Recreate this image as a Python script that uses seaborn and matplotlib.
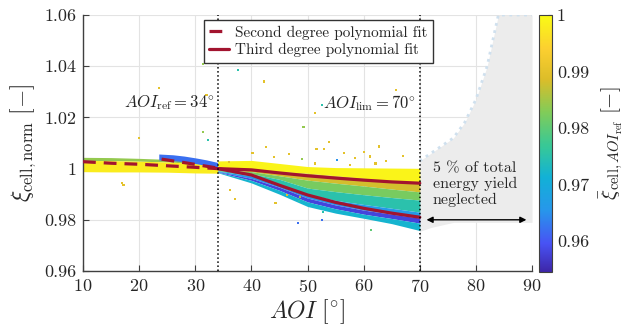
import matplotlib
matplotlib.use("Agg")
import matplotlib.pyplot as plt
import numpy as np
import pandas as pd
import seaborn as sns
from matplotlib.colors import LinearSegmentedColormap, Normalize
from matplotlib.cm import ScalarMappable
from matplotlib.ticker import FuncFormatter

# ---------------- values ----------------
# cloud below AOI_ref (upper group): band boundaries, top -> bottom
aoi_left = [10, 15, 20, 25, 30, 34]
left_top = [1.0044, 1.0043, 1.0040, 1.0036, 1.0030, 1.0022]
left_mid = [1.0032, 1.0031, 1.0029, 1.0026, 1.0020, 1.0012]
left_bot = [0.9988, 0.9987, 0.9987, 0.9986, 0.9983, 0.9982]
left_colors = [0.984, 0.998]

# blue strip (lower group) before AOI_ref
aoi_strip = [23.5, 26, 28, 30, 32, 34]
strip_top = [1.0057, 1.0054, 1.0049, 1.0042, 1.0034, 1.0024]
strip_bot = [1.0034, 1.0031, 1.0027, 1.0020, 1.0012, 1.0005]
strip_color = 0.962

# cloud between AOI_ref and AOI_lim: band boundaries, top -> bottom
aoi_right = [34, 40, 45, 50, 55, 60, 65, 70]
right_bounds = [
    [1.0030, 1.0032, 1.0020, 1.0008, 1.0004, 1.0003, 1.0002, 1.0001],
    [0.9998, 0.9995, 0.9988, 0.9982, 0.9972, 0.9962, 0.9952, 0.9943],
    [0.9995, 0.9988, 0.9972, 0.9955, 0.9943, 0.9932, 0.9920, 0.9909],
    [0.9992, 0.9980, 0.9958, 0.9924, 0.9910, 0.9898, 0.9887, 0.9877],
    [0.9990, 0.9972, 0.9940, 0.9900, 0.9876, 0.9860, 0.9845, 0.9830],
    [0.9988, 0.9962, 0.9927, 0.9885, 0.9858, 0.9838, 0.9822, 0.9807],
    [0.9986, 0.9954, 0.9915, 0.9870, 0.9843, 0.9822, 0.9805, 0.9787],
    [0.9984, 0.9944, 0.9900, 0.9852, 0.9826, 0.9806, 0.9785, 0.9758],
]
right_colors = [0.999, 0.988, 0.982, 0.975, 0.966, 0.958, 0.972]

# neglected region beyond AOI_lim
aoi_gray = [70, 72, 74, 76, 78, 80, 82, 84, 86, 88, 90]
gray_top = [1.003, 1.006, 1.009, 1.012, 1.018, 1.027, 1.040, 1.060, 1.060, 1.060, 1.060]
gray_bot = [0.9755, 0.977, 0.978, 0.979, 0.979, 0.979, 0.979, 0.979, 0.979, 0.979, 0.979]

# fits
fit2_upper_x = [10, 15, 20, 25, 30, 34]
fit2_upper_y = [1.0027, 1.0021, 1.0017, 1.0011, 1.0005, 1.0000]
fit2_lower_x = [24, 29, 34]
fit2_lower_y = [1.0037, 1.0020, 1.0002]
fit3_x = [34, 40, 45, 50, 55, 60, 65, 70]
fit3_upper_y = [1.0000, 0.9995, 0.9983, 0.9972, 0.9963, 0.9955, 0.9948, 0.9943]
fit3_lower_y = [1.0000, 0.9975, 0.9935, 0.9897, 0.9868, 0.9845, 0.9826, 0.9810]

# scattered single points
out_aoi = [31.4, 23.5, 20.0, 32.0, 31.4, 32.2, 37.6, 42.3, 40.2, 42.6, 49.3, 51.4,
           52.6, 51.6, 52.9, 46.7, 49.0, 65.7, 56.5, 62.8, 61.2, 53.8, 51.4, 62.1,
           55.3, 17.0, 17.2, 36.2, 37.1, 44.3, 48.6, 48.3, 52.8, 52.6, 36.0, 61.25,
           47.0, 46.3, 48.5, 58.5, 60.0, 64.0, 67.0, 57.5, 44.0]
out_xi = [1.0408, 1.0315, 1.0121, 1.0287, 1.0144, 1.0112, 1.0384, 1.0340, 1.0061,
          1.0083, 1.0161, 1.0218, 1.0248, 1.0075, 1.0077, 1.0056, 1.0036, 1.0307,
          1.0060, 1.0086, 1.0047, 1.0105, 1.0020, 1.0020, 1.0034, 0.9943, 0.9937,
          0.9916, 0.9880, 0.9867, 0.9890, 0.9786, 0.9832, 0.9799, 1.0027, 0.9760,
          0.9916, 0.9897, 0.9875, 1.0040, 1.0065, 1.0030, 1.0050, 1.0015, 1.0045]
out_c = [0.984, 0.990, 0.990, 0.990, 0.984, 0.975, 0.975, 0.990, 0.990, 0.990,
         0.984, 0.990, 0.975, 0.990, 0.990, 0.990, 0.984, 0.990, 0.990, 0.990,
         0.990, 0.990, 0.990, 0.990, 0.965, 0.990, 0.990, 0.990, 0.990, 0.990,
         0.984, 0.962, 0.975, 0.962, 0.990, 0.980, 0.990, 0.990, 0.975, 0.990,
         0.990, 0.990, 0.990, 0.990, 0.990]

# ---------------- style ----------------
sns.set_style("whitegrid")
plt.rcParams["font.family"] = ["serif"]
plt.rcParams["font.serif"] = ["cmr10", "DejaVu Serif"]
plt.rcParams["mathtext.fontset"] = "cm"
plt.rcParams["axes.formatter.use_mathtext"] = True

parula = LinearSegmentedColormap.from_list("parula", [
    (0.00, (0.2422, 0.1504, 0.6603)),
    (0.11, (0.2810, 0.3228, 0.9579)),
    (0.24, (0.1540, 0.5902, 0.9218)),
    (0.37, (0.0689, 0.6948, 0.8394)),
    (0.49, (0.2161, 0.7843, 0.5923)),
    (0.62, (0.5044, 0.7993, 0.3480)),
    (0.75, (0.8634, 0.7406, 0.1596)),
    (0.87, (0.9892, 0.8136, 0.1885)),
    (1.00, (0.9769, 0.9839, 0.0805)),
])
norm = Normalize(vmin=0.9545, vmax=1.0)
red = "#A2142F"

fig = plt.figure(figsize=(6.42, 3.29), dpi=100)
ax = fig.add_axes([0.1293, 0.1763, 0.6994, 0.7781])
cax = fig.add_axes([0.8396, 0.1733, 0.0202, 0.7811])

# neglected region
ax.fill_between(aoi_gray, gray_bot, gray_top, color="#ececec", lw=0, zorder=1)
ax.plot(aoi_gray, gray_top, ls=":", lw=2, color="#cfe0ee", zorder=1)

# cloud bands
ax.fill_between(aoi_left, left_top, left_mid, color=parula(norm(left_colors[0])), lw=0, zorder=2)
ax.fill_between(aoi_left, left_mid, left_bot, color=parula(norm(left_colors[1])), lw=0, zorder=2)
ax.fill_between(aoi_strip, strip_top, strip_bot, color=parula(norm(strip_color)), lw=0, zorder=2)
for i, c in enumerate(right_colors):
    ax.fill_between(aoi_right, right_bounds[i], right_bounds[i + 1],
                    color=parula(norm(c)), lw=0, zorder=2)

outliers = pd.DataFrame({"aoi": out_aoi, "xi": out_xi, "c": out_c})
sns.scatterplot(data=outliers, x="aoi", y="xi", hue="c", palette=parula,
                hue_norm=norm, s=2.5, linewidth=0, marker="s", legend=False,
                ax=ax, zorder=3)

# fits
sns.lineplot(x=fit2_upper_x, y=fit2_upper_y, color=red, lw=2.3, ax=ax, zorder=4)
l2 = ax.lines[-1]
l2.set_dashes([4, 2.5])
sns.lineplot(x=fit2_lower_x, y=fit2_lower_y, color=red, lw=2.3, ax=ax, zorder=4)
ax.lines[-1].set_dashes([4, 2.5])
sns.lineplot(x=fit3_x, y=fit3_upper_y, color=red, lw=2.3, ax=ax, zorder=4)
l3 = ax.lines[-1]
sns.lineplot(x=fit3_x, y=fit3_lower_y, color=red, lw=2.3, ax=ax, zorder=4)

ax.axvline(34, color="k", ls=":", lw=1.1, zorder=5)
ax.axvline(70, color="k", ls=":", lw=1.1, zorder=5)

ax.text(33.3, 1.0256, r"$AOI_{\mathrm{ref}} = 34^{\circ}$", ha="right", va="center", fontsize=12)
ax.text(69.3, 1.0256, r"$AOI_{\mathrm{lim}} = 70^{\circ}$", ha="right", va="center", fontsize=12)
ax.text(72.3, 0.9938, "5 % of total\nenergy yield\nneglected", ha="left", va="center",
        fontsize=11.5, linespacing=1.12)
ax.annotate("", xy=(89.0, 0.98), xytext=(71.2, 0.98),
            arrowprops=dict(arrowstyle="<|-|>", color="k", lw=1, mutation_scale=9,
                            shrinkA=0, shrinkB=0), zorder=6)

ax.set_xlim(10, 90)
ax.set_ylim(0.96, 1.06)
ax.set_xticks([10, 20, 30, 40, 50, 60, 70, 80, 90])
ax.set_yticks([0.96, 0.98, 1.0, 1.02, 1.04, 1.06])
fmt = FuncFormatter(lambda v, p: f"{v:g}")
ax.yaxis.set_major_formatter(fmt)
ax.grid(True, color="#e3e3e3", lw=0.8)
ax.set_axisbelow(True)
for s in ["top", "right"]:
    ax.spines[s].set_visible(False)
for s in ["left", "bottom"]:
    ax.spines[s].set_color("#404040")
    ax.spines[s].set_linewidth(1.0)
ax.tick_params(direction="in", length=4, width=0.8, color="#404040",
               labelsize=13, pad=5, bottom=True, left=True)
ax.set_xlabel(r"$AOI\ [^{\circ}]$", fontsize=17, labelpad=2)
ax.set_ylabel(r"$\xi_{\mathrm{cell,norm}}\ [-]$", fontsize=17, labelpad=4)

ax.legend([l2, l3], ["Second degree polynomial fit", "Third degree polynomial fit"],
          loc="upper left", bbox_to_anchor=(0.2695, 0.98), borderaxespad=0,
          fontsize=11, frameon=True, fancybox=False, edgecolor="#333333",
          framealpha=1, handlelength=1.3, handletextpad=0.4, borderpad=0.35,
          labelspacing=0.22)

cb = fig.colorbar(ScalarMappable(norm=norm, cmap=parula), cax=cax)
cb.set_ticks([0.96, 0.97, 0.98, 0.99, 1.0])
cb.ax.yaxis.set_major_formatter(fmt)
cb.ax.tick_params(direction="in", length=3, labelsize=13, color="#404040")
cb.outline.set_edgecolor("#404040")
cb.set_label(r"$\bar{\xi}_{\mathrm{cell},AOI_{\mathrm{ref}}}\ [-]$", fontsize=15, labelpad=6)

fig.savefig("out.png", dpi=100)
